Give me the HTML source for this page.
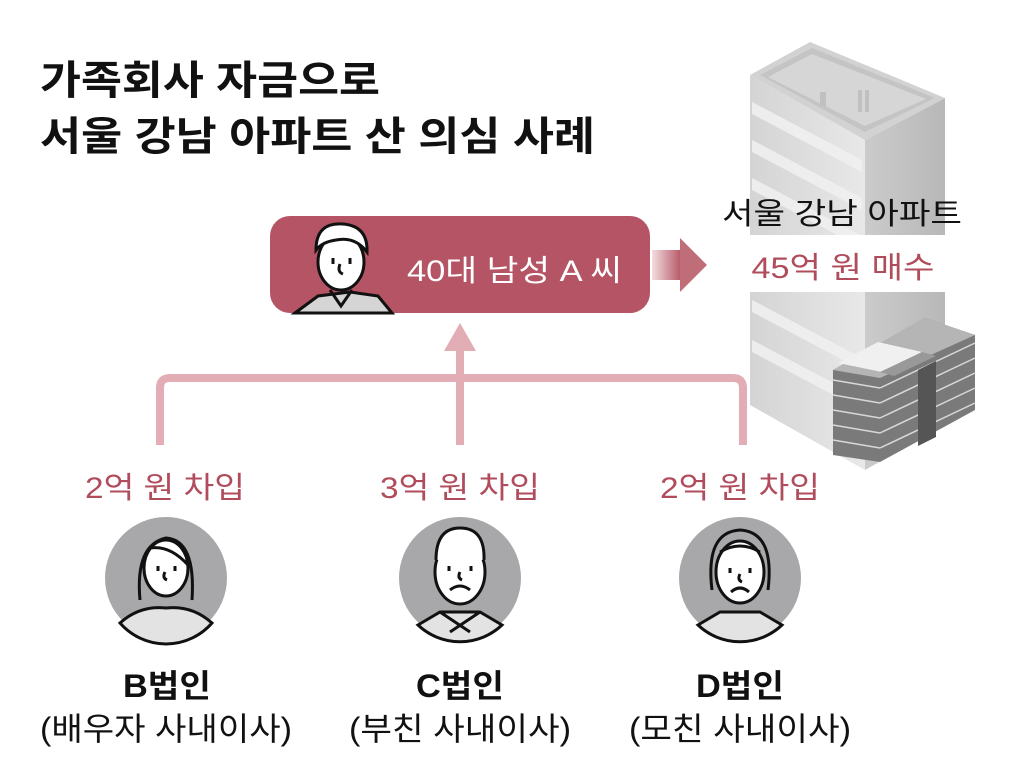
<!DOCTYPE html>
<html><head><meta charset="utf-8"><style>
html,body{margin:0;padding:0;background:#fff;}
svg{display:block;}
text{font-family:"Liberation Sans","Noto Sans CJK KR",sans-serif;}
</style></head><body>
<svg width="1010" height="783" viewBox="0 0 1010 783" xmlns="http://www.w3.org/2000/svg">
<defs>
<linearGradient id="bl" x1="0" x2="1"><stop offset="0" stop-color="#d4d4d4"/><stop offset="1" stop-color="#e8e8e8"/></linearGradient>
<linearGradient id="br" x1="0" x2="1"><stop offset="0" stop-color="#cbcbcb"/><stop offset="1" stop-color="#b8b8b8"/></linearGradient>
<linearGradient id="ar" x1="0" x2="1"><stop offset="0" stop-color="#f3dde0"/><stop offset="1" stop-color="#b45464"/></linearGradient>
</defs>
<!-- building -->
<polygon points="750,75 750,405 865,470 865,140" fill="url(#bl)"/>
<polygon points="865,140 865,470 945,425 945,98" fill="url(#br)"/>
<polygon points="750,75 810,42 945,98 865,140" fill="#d2d2d2"/>
<polygon points="760,75 812,48 935,98 865,132" fill="#c4c4c4"/>
<polygon points="768,77 812,54 926,99 865,126" fill="#d6d6d6"/>
<g fill="#f0f0f0" opacity="0.9">
<polygon points="752,102 862,160 862,172 752,114"/>
<polygon points="752,140 862,198 862,210 752,152"/>
<polygon points="752,178 862,236 862,248 752,190"/>
<polygon points="752,300 862,358 862,370 752,312"/>
<polygon points="752,340 862,398 862,410 752,352"/>
</g>
<g fill="#c0c0c0"><rect x="820" y="92" width="6" height="14"/><rect x="858" y="90" width="4" height="22"/><rect x="865" y="90" width="4" height="22"/></g>
<!-- white band -->
<rect x="715" y="235" width="255" height="57" fill="#fff"/>
<text x="842" y="224" font-size="30" text-anchor="middle" textLength="240" lengthAdjust="spacingAndGlyphs" fill="#111">서울 강남 아파트</text>
<text x="843" y="278" font-size="30" text-anchor="middle" textLength="183" lengthAdjust="spacingAndGlyphs" fill="#b04c5c">45억 원 매수</text>
<!-- money stack -->
<g>
<polygon points="833,370 833,455 880,462 975,410 975,335 925,318" fill="#7a7a7a"/>
<g stroke="#d8d8d8" stroke-width="1.5">
<line x1="833" y1="380" x2="880" y2="388"/><line x1="880" y1="388" x2="975" y2="343"/>
<line x1="833" y1="395" x2="880" y2="403"/><line x1="880" y1="403" x2="975" y2="358"/>
<line x1="833" y1="410" x2="880" y2="418"/><line x1="880" y1="418" x2="975" y2="373"/>
<line x1="833" y1="425" x2="880" y2="433"/><line x1="880" y1="433" x2="975" y2="388"/>
<line x1="833" y1="440" x2="880" y2="448"/><line x1="880" y1="448" x2="975" y2="403"/>
</g>
<polygon points="918,370 936,361 936,437 918,446" fill="#555"/>
<polygon points="833,370 880,378 975,335 925,318" fill="#b5b5b5"/>
<polygon points="838,363 882,372 922,352 878,342" fill="#f0f0f0"/>
<polygon points="880,372 922,352 936,356 894,376" fill="#999"/>
</g>
<!-- title -->
<text x="40" y="94" font-size="40" font-weight="bold" textLength="340" lengthAdjust="spacingAndGlyphs" fill="#111">가족회사 자금으로</text>
<text x="40" y="150" font-size="40" font-weight="bold" textLength="555" lengthAdjust="spacingAndGlyphs" fill="#111">서울 강남 아파트 산 의심 사례</text>
<!-- main box -->
<rect x="270" y="216" width="380" height="97" rx="20" fill="#b45464"/>
<g stroke="#111" stroke-width="3" fill="#fff">
<path d="M295,313 L318,296 L350,292 L378,296 L392,313 Z" fill="#d5d5d5"/>
<path d="M330,290 L341,306 L352,290" fill="none"/>
<ellipse cx="341" cy="262" rx="23" ry="28"/>
<path d="M316,250 Q316,222 343,224 Q368,226 367,252 Q355,236 336,240 Q322,242 316,250Z" fill="#fff"/>
<path d="M333,258 v6 M350,258 v6 M340,264 q-3,8 3,10" fill="none"/>
</g>
<text x="407" y="281" font-size="30" fill="#fff" textLength="215" lengthAdjust="spacingAndGlyphs">40대 남성 A 씨</text>
<!-- right arrow -->
<rect x="652" y="250" width="30" height="30" fill="url(#ar)"/>
<polygon points="680,238 707,265 680,292" fill="#c06d7a"/>
<!-- connectors -->
<path d="M160,445 V388 Q160,378 170,378 H733 Q743,378 743,388 V445" fill="none" stroke="#e2adb4" stroke-width="8"/>
<rect x="456" y="348" width="8" height="97" fill="#e2adb4"/>
<polygon points="460,323 444,351 476,351" fill="#e2adb4"/>
<!-- labels -->
<g font-size="30" fill="#b04c5c" text-anchor="middle">
<text x="165" y="498" textLength="160" lengthAdjust="spacingAndGlyphs">2억 원 차입</text>
<text x="460" y="498" textLength="160" lengthAdjust="spacingAndGlyphs">3억 원 차입</text>
<text x="740" y="498" textLength="160" lengthAdjust="spacingAndGlyphs">2억 원 차입</text>
</g>
<!-- avatars -->
<g stroke="#111" stroke-width="3">
<circle cx="166" cy="578" r="61" fill="#a8a8aa" stroke="none"/>
<path d="M120,623 Q140,605 166,608 Q192,605 212,623 A61,61 0 0 1 120,623Z" fill="#e3e3e3"/>
<ellipse cx="166" cy="568" rx="22" ry="28" fill="#fff"/>
<path d="M140,600 Q135,545 166,538 Q196,540 192,600" fill="none"/>
<path d="M150,548 Q170,545 188,565" fill="none"/>
<path d="M158,566 v5 M175,566 v5 M165,572 q-3,6 2,8" fill="none"/>
<circle cx="460" cy="578" r="61" fill="#a8a8aa" stroke="none"/>
<path d="M418,625 L440,612 L480,612 L502,625 A61,61 0 0 1 418,625Z" fill="#e3e3e3"/>
<path d="M440,612 L470,632 M480,612 L450,632" fill="none"/>
<ellipse cx="460" cy="572" rx="25" ry="32" fill="#fff"/>
<path d="M436,560 Q436,528 460,528 Q485,528 484,560" fill="#fff"/>
<path d="M449,566 v5 M471,566 v5 M460,572 q-3,6 2,8 M450,590 q10,-8 20,0" fill="none"/>
<circle cx="740" cy="578" r="61" fill="#a8a8aa" stroke="none"/>
<path d="M698,625 L720,612 L760,612 L782,625 A61,61 0 0 1 698,625Z" fill="#e3e3e3"/>
<ellipse cx="740" cy="572" rx="24" ry="31" fill="#fff"/>
<path d="M712,590 Q705,532 740,530 Q775,532 768,590" fill="none"/>
<path d="M720,552 Q740,540 760,552" fill="none"/>
<path d="M730,568 v5 M750,568 v5 M740,574 q-3,6 2,8 M731,592 q9,-8 18,0" fill="none"/>
</g>
<!-- names -->
<g font-size="32" fill="#111" text-anchor="middle">
<text x="167" y="697" font-weight="bold" textLength="88" lengthAdjust="spacingAndGlyphs">B법인</text>
<text x="460" y="697" font-weight="bold" textLength="88" lengthAdjust="spacingAndGlyphs">C법인</text>
<text x="740" y="697" font-weight="bold" textLength="88" lengthAdjust="spacingAndGlyphs">D법인</text>
<text x="166" y="740" textLength="252" lengthAdjust="spacingAndGlyphs">(배우자 사내이사)</text>
<text x="460" y="740" textLength="222" lengthAdjust="spacingAndGlyphs">(부친 사내이사)</text>
<text x="740" y="740" textLength="222" lengthAdjust="spacingAndGlyphs">(모친 사내이사)</text>
</g>
</svg>
</body></html>
